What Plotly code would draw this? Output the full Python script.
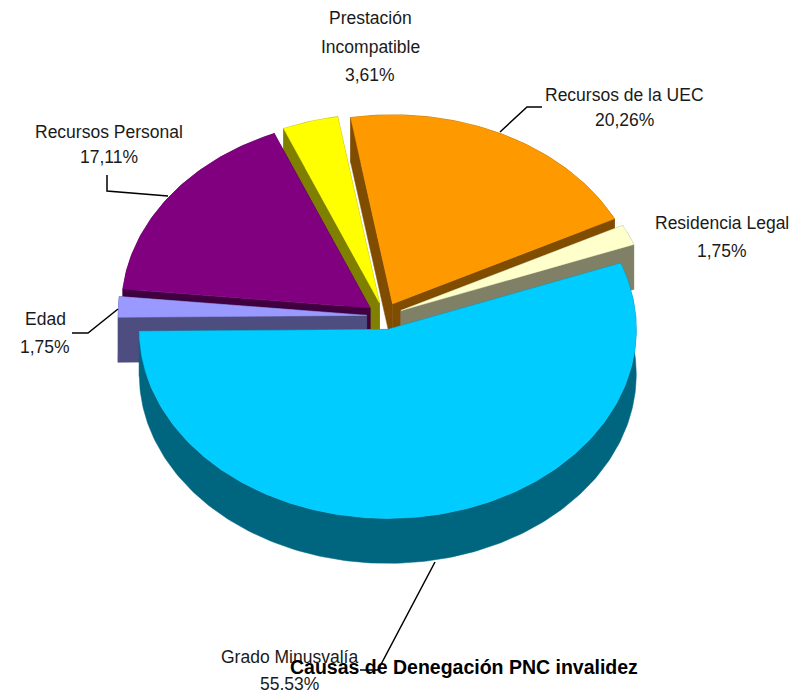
import math
import plotly.graph_objects as go

# --- Chart data (clockwise from the start angle) ---
categories = ["Recursos de la UEC", "Residencia Legal", "Grado Minusvalía", "Edad", "Recursos Personal", "Prestación Incompatible"]
values = [20.26, 1.75, 55.53, 1.75, 17.11, 3.61]
top_colors = ["#FF9900", "#FFFFCC", "#00CCFF", "#9999FF", "#800080", "#FFFF00"]
side_colors = ["#804D00", "#808066", "#006680", "#4D4D80", "#400040", "#808000"]
title_text = "Causas de Denegación PNC invalidez"

# --- Fake 3D pie set-up, in pixels of the 800x690 page ---
center_x, center_y = 384.5, 316
radius_x, radius_y = 248.5, 189
depth = 45
explode = 0.072
start_angle = -9.7
draw_order = [5, 0, 4, 1, 3, 2]  # back slices first so the front ones cover them

# label lines: slice index -> where each line of text sits
label_lines = {
    0: [("Recursos de la UEC", 624, 95)],
    1: [("Residencia Legal", 722, 223)],
    2: [("Grado Minusvalía", 289, 657)],
    3: [("Edad", 45, 319)],
    4: [("Recursos Personal", 109, 132)],
    5: [("Prestación", 370, 18), ("Incompatible", 370, 47)],
}
pct_positions = {0: (624, 120), 1: (722, 251), 2: (289, 684), 3: (45, 347), 4: (109, 157), 5: (370, 75)}

leader_lines = [
    ([542, 527, 500], [107, 107, 132]),
    ([107, 107, 168], [175, 191, 196]),
    ([72, 88, 118], [333, 333, 309]),
    ([435, 378, 360], [562, 670, 670]),
]


def point(apex, angle):
    rad = math.radians(angle)
    return apex[0] + radius_x * math.sin(rad), apex[1] - radius_y * math.cos(rad)


def add_poly(fig, pts, color):
    xs = [p[0] for p in pts] + [pts[0][0]]
    ys = [p[1] for p in pts] + [pts[0][1]]
    fig.add_trace(go.Scatter(x=xs, y=ys, mode="lines", fill="toself", fillcolor=color,
                             line=dict(color=color, width=0.5), hoverinfo="skip", showlegend=False))


def add_slice(fig, a0, a1, top, side):
    mid = math.radians((a0 + a1) / 2)
    apex = (center_x + explode * radius_x * math.sin(mid), center_y - explode * radius_y * math.cos(mid))
    steps = max(2, int(a1 - a0))
    arc = [point(apex, a0 + (a1 - a0) * i / steps) for i in range(steps + 1)]
    drop = lambda pts: [(x, y + depth) for x, y in pts]

    # radial faces, then outer wall, then the top
    add_poly(fig, [apex, arc[0]] + drop([arc[0], apex]), side)
    add_poly(fig, [apex, arc[-1]] + drop([arc[-1], apex]), side)
    add_poly(fig, arc + drop(arc)[::-1], side)
    add_poly(fig, [apex] + arc, top)


fig = go.Figure()

# slice angles come from the values
total = sum(values)
angles = [start_angle]
for v in values:
    angles.append(angles[-1] + v / total * 360)

for i in draw_order:
    add_slice(fig, angles[i], angles[i + 1], top_colors[i], side_colors[i])

for xs, ys in leader_lines:
    fig.add_trace(go.Scatter(x=xs, y=ys, mode="lines", line=dict(color="black", width=1.5),
                             hoverinfo="skip", showlegend=False))

annotations = []
label_font = dict(family="Liberation Sans", size=17.5, color="#1a1a1a")
for i, v in enumerate(values):
    for text, x, y in label_lines[i]:
        annotations.append(dict(x=x, y=y, text=text, showarrow=False, font=label_font))
    pct = f"{v:.2f}%".replace(".", ",")
    annotations.append(dict(x=pct_positions[i][0], y=pct_positions[i][1], text=pct, showarrow=False, font=label_font))
annotations.append(dict(x=464, y=667, text=f"<b>{title_text}</b>", showarrow=False,
                        font=dict(family="Liberation Sans", size=19.5, color="black")))

# the page body has an 8px margin, so the plot starts at pixel 8
fig.update_layout(
    width=792, height=682,
    margin=dict(l=0, r=0, t=0, b=0),
    paper_bgcolor="white", plot_bgcolor="white",
    xaxis=dict(range=[8, 800], visible=False),
    yaxis=dict(range=[690, 8], visible=False),
    annotations=annotations,
    showlegend=False,
)

fig.write_html("out.html")
